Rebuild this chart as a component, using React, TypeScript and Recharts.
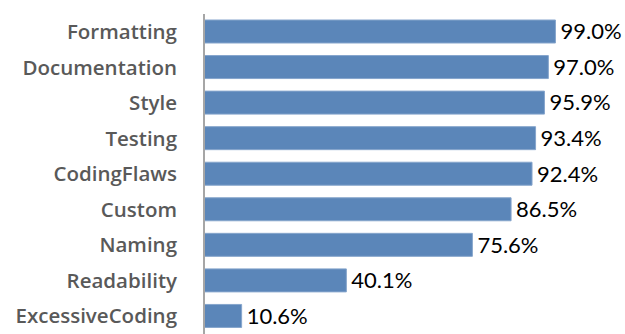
import React from "react";
import { BarChart, Bar, XAxis, YAxis, LabelList } from "recharts";

const CATEGORIES = [
  "Formatting",
  "Documentation",
  "Style",
  "Testing",
  "CodingFlaws",
  "Custom",
  "Naming",
  "Readability",
  "ExcessiveCoding",
];
const VALUES = [99.0, 97.0, 95.9, 93.4, 92.4, 86.5, 75.6, 40.1, 10.6];

const data = CATEGORIES.map((name, i) => ({ name, value: VALUES[i] }));

export default function App() {
  return (
    <div style={{ position: "absolute", left: 0, top: 0, width: 625, height: 334, background: "#fff" }}>
      <BarChart
        width={625}
        height={334}
        data={data}
        layout="vertical"
        margin={{ top: 14, right: 66, bottom: 0, left: 0 }}
        barSize={23}
      >
        <XAxis type="number" domain={[0, 100]} hide />
        <YAxis
          type="category"
          dataKey="name"
          width={204}
          interval={0}
          tickLine={false}
          tickMargin={21}
          axisLine={{ stroke: "#a6a6a6", strokeWidth: 2 }}
          tick={{ fontSize: 20.5, fill: "#595959", fontFamily: "'Open Sans', sans-serif", fontWeight: 600 }}
        />
        <Bar dataKey="value" fill="#5b86b9" stroke="#86a5cc" strokeWidth={1} isAnimationActive={false}>
          <LabelList
            dataKey="value"
            position="right"
            offset={5}
            formatter={(v: any) => `${Number(v).toFixed(1)}%`}
            style={{ fontSize: 22, fill: "#000", fontFamily: "Lato, sans-serif" }}
          />
        </Bar>
      </BarChart>
    </div>
  );
}
